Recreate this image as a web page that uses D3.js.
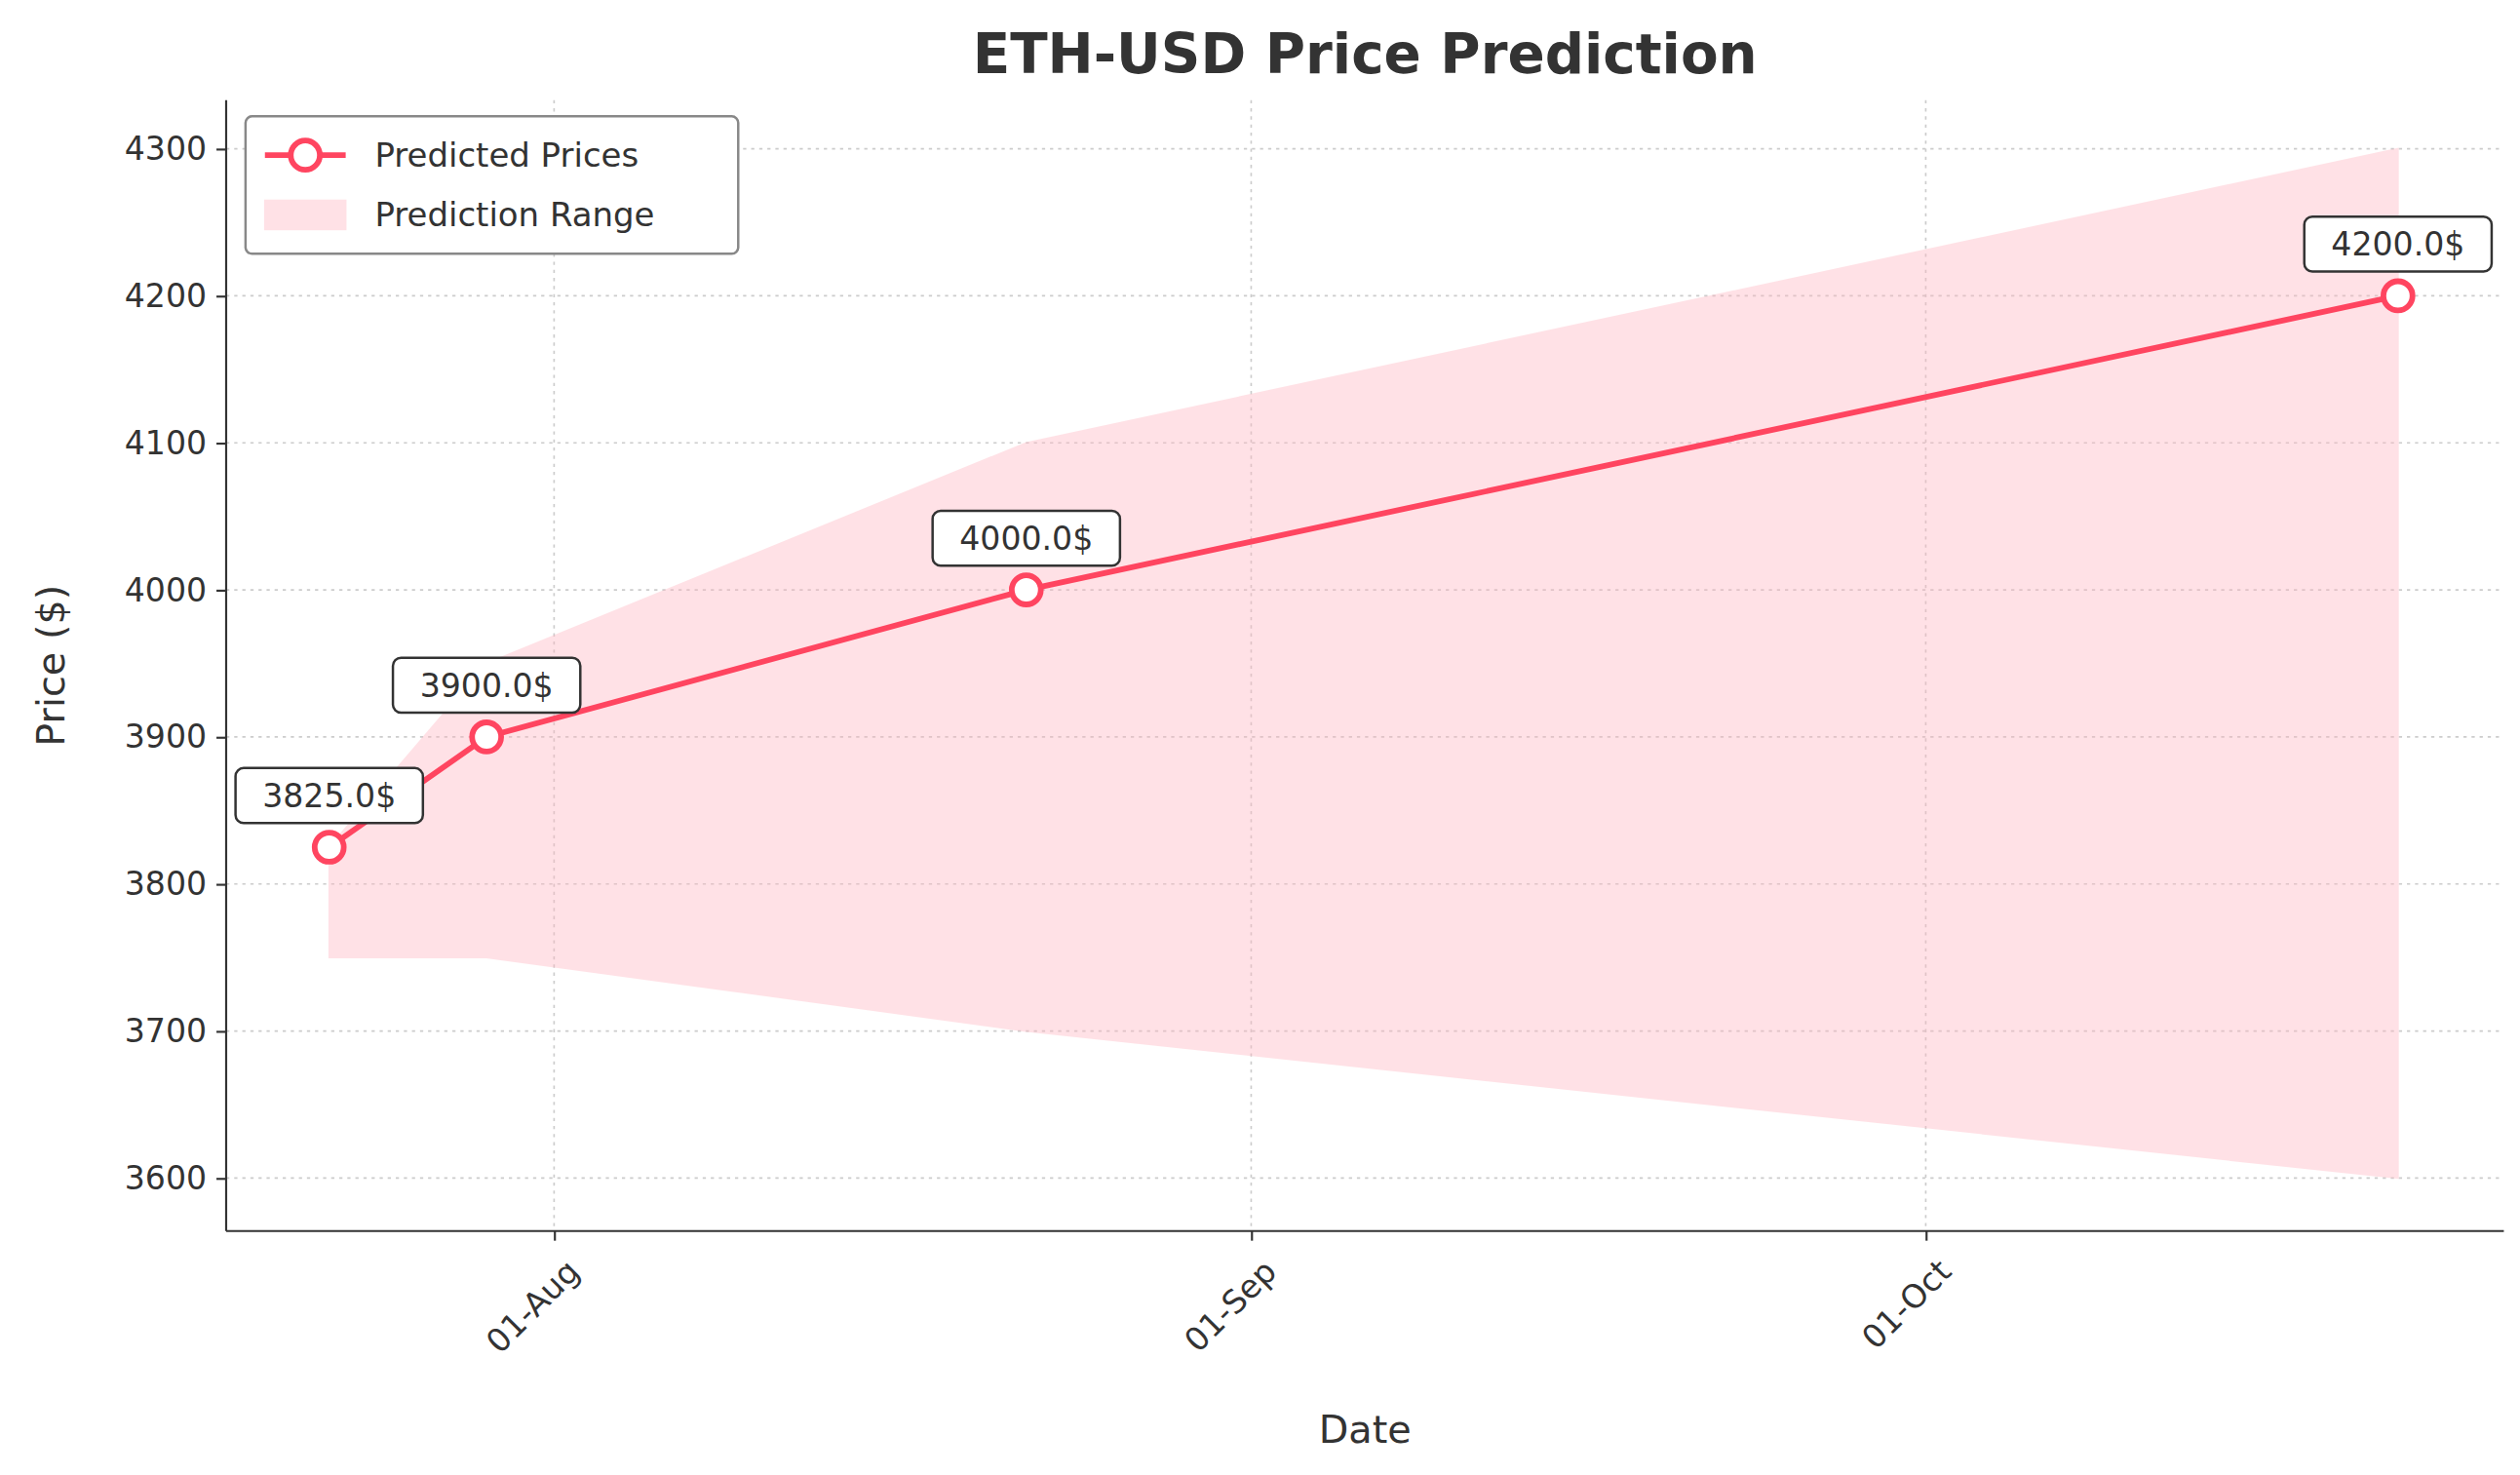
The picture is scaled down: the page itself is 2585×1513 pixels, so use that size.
<!DOCTYPE html>
<html><head><meta charset="utf-8">
<script src="https://cdn.jsdelivr.net/npm/d3@7"></script>
<style>body{margin:0;background:#fff}text{font-family:"DejaVu Sans",sans-serif;fill:#333}</style>
</head><body><svg id="chart"></svg>
<script>
const dates = ["2024-07-22", "2024-07-29", "2024-08-22", "2024-10-22"];
const predicted = [3825, 3900, 4000, 4200];
const upper = [3825, 3950, 4100, 4300];
const lower = [3750, 3750, 3700, 3600];
const yTicks = [3600, 3700, 3800, 3900, 4000, 4100, 4200, 4300];
const xTicks = ["2024-08-01", "2024-09-01", "2024-10-01"];

const parse = d3.timeParse("%Y-%m-%d");
const W = 1560, H = 913;
const svg = d3.select("#chart").attr("width", 2585).attr("height", 1513).attr("viewBox", `0 0 ${W} ${H}`);
const m = { left: 140, right: 1550, top: 62, bottom: 762 };
const x = d3.scaleTime().domain([new Date(2024, 6, 17, 10), new Date(2024, 9, 26, 17)]).range([m.left, m.right]);
const y = d3.scaleLinear().domain([3564, 4333]).range([m.bottom, m.top]);
const data = dates.map((d, i) => ({ t: parse(d), p: predicted[i], u: upper[i], l: lower[i] }));
const red = "#ff4560";

// grid
svg.append("g").selectAll("line").data(yTicks).enter().append("line")
    .attr("x1", m.left).attr("x2", m.right).attr("y1", d => y(d)).attr("y2", d => y(d))
    .style("stroke", "#ccc").style("stroke-dasharray", "2,3");
svg.append("g").selectAll("line").data(xTicks).enter().append("line")
    .attr("x1", d => x(parse(d))).attr("x2", d => x(parse(d))).attr("y1", m.top).attr("y2", m.bottom)
    .style("stroke", "#ccc").style("stroke-dasharray", "2,3");

svg.append("path").datum(data)
    .attr("d", d3.area().x(d => x(d.t)).y0(d => y(d.l)).y1(d => y(d.u)))
    .style("fill", "#ffb6c1").style("opacity", 0.4).style("stroke", "#ffb6c1");

svg.append("path").datum(data)
    .attr("d", d3.line().x(d => x(d.t)).y(d => y(d.p)))
    .style("fill", "none").style("stroke", red).style("stroke-width", 3.5);
svg.append("g").selectAll("circle").data(data).enter().append("circle")
    .attr("cx", d => x(d.t)).attr("cy", d => y(d.p)).attr("r", 9)
    .style("fill", "#fff").style("stroke", red).style("stroke-width", 3.5);

// annotations
const ann = svg.append("g").selectAll("g").data(data).enter().append("g")
    .attr("transform", d => `translate(${x(d.t)},${y(d.p) - 32})`);
ann.append("rect").attr("x", -58).attr("y", -17).attr("width", 116).attr("height", 34).attr("rx", 5)
    .style("fill", "#fff").style("stroke", "#333").style("stroke-width", 1.5);
ann.append("text").attr("text-anchor", "middle").attr("dy", 7).style("font-size", "20px")
    .text(d => d.p.toFixed(1) + "$");

// axes
const yAxis = svg.append("g").attr("transform", `translate(${m.left},0)`)
    .call(d3.axisLeft(y).tickValues(yTicks).tickFormat(d3.format("d")).tickSize(6).tickPadding(6));
const xAxis = svg.append("g").attr("transform", `translate(0,${m.bottom})`)
    .call(d3.axisBottom(x).tickValues(xTicks.map(parse)).tickFormat(d3.timeFormat("%d-%b")).tickSize(6));
[yAxis, xAxis].forEach(a => {
    a.selectAll("path,line").style("stroke", "#333").style("stroke-width", 1.3);
    a.selectAll("text").style("font-size", "20px").style("fill", "#333");
});
xAxis.select(".domain").attr("d", `M${m.left},0H${m.right}`);
yAxis.select(".domain").attr("d", `M0,${m.top}V${m.bottom}`);
xAxis.selectAll("text").attr("text-anchor", "end").attr("dy", 0)
    .attr("transform", "translate(10,20) rotate(-45)");

svg.append("text").attr("x", 845).attr("y", 45).attr("text-anchor", "middle")
    .style("font-size", "34px").style("font-weight", "bold").text("ETH-USD Price Prediction");
svg.append("text").attr("x", 845).attr("y", 893).attr("text-anchor", "middle")
    .style("font-size", "24px").text("Date");
svg.append("text").attr("transform", `translate(40,${(m.top + m.bottom) / 2}) rotate(-90)`)
    .attr("text-anchor", "middle").style("font-size", "24px").text("Price ($)");

// legend
const lg = svg.append("g").attr("transform", "translate(152,72)");
lg.append("rect").attr("width", 305).attr("height", 85).attr("rx", 4)
    .style("fill", "#fff").style("stroke", "#888").style("stroke-width", 1.5);
lg.append("line").attr("x1", 12).attr("x2", 62).attr("y1", 24).attr("y2", 24)
    .style("stroke", red).style("stroke-width", 3.5);
lg.append("circle").attr("cx", 37).attr("cy", 24).attr("r", 9)
    .style("fill", "#fff").style("stroke", red).style("stroke-width", 3.5);
lg.append("rect").attr("x", 12).attr("y", 52).attr("width", 50).attr("height", 18)
    .style("fill", "#ffb6c1").style("opacity", 0.4).style("stroke", "#ffb6c1");
lg.append("text").attr("x", 80).attr("y", 31).style("font-size", "20.5px").text("Predicted Prices");
lg.append("text").attr("x", 80).attr("y", 68).style("font-size", "20.5px").text("Prediction Range");
</script></body></html>
